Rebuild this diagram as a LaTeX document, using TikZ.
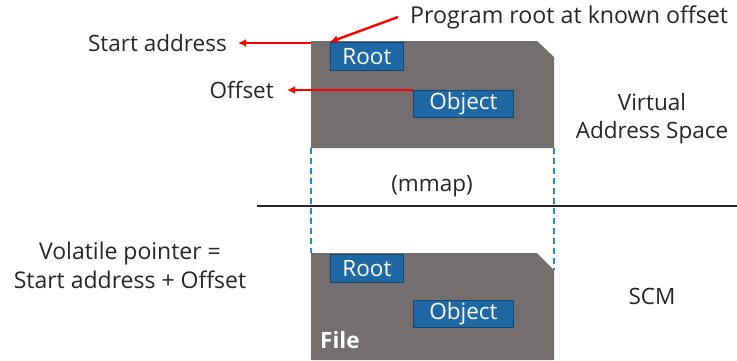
\documentclass[tikz,border=0pt]{standalone}
\usepackage{fontspec}
\setmainfont{Open Sans}
\usetikzlibrary{arrows.meta}
\definecolor{cardgray}{RGB}{116,111,110}
\definecolor{boxblue}{RGB}{31,104,166}
\definecolor{boxedge}{RGB}{22,70,112}
\definecolor{mapblue}{RGB}{33,136,220}
\definecolor{txt}{RGB}{38,38,38}
\tikzset{
  card/.style={fill=cardgray},
  objbox/.style={fill=boxblue, draw=boxedge, line width=1pt, text=white,
    inner sep=0pt, font=\fontsize{22.5}{22.5}\selectfont},
  label/.style={text=txt, inner sep=0pt, font=\fontsize{22.5}{28}\selectfont},
  pointer/.style={draw=red, line width=2.4pt, -{Latex[length=8pt,width=8pt]}},
  mapline/.style={draw=mapblue, line width=1.4pt, dash pattern=on 6pt off 4pt},
}
\begin{document}
\begin{tikzpicture}[x=1pt,y=-1pt]
\useasboundingbox (0,0) rectangle (737,360);

% virtual address space card
\fill[card] (311,41) -- (537,41) -- (554,57) -- (554,148) -- (311,148) -- cycle;
\coordinate (vtl) at (311,43);
\coordinate (vbl) at (311,148);
\coordinate (vbr) at (554,148);

% file card in SCM
\fill[card] (311,253) -- (537,253) -- (554,270) -- (554,360) -- (311,360) -- cycle;
\coordinate (ftl) at (311,253);
\coordinate (ftr) at (554,270);

% objects in memory
\node[objbox, minimum width=73pt, minimum height=28pt, anchor=north west] (vroot) at (330,42) {Root};
\node[objbox, minimum width=100pt, minimum height=27pt, anchor=north west] (vobj) at (413,90) {Object};

% objects in the file
\node[objbox, minimum width=73pt, minimum height=28pt, anchor=north west] (froot) at (330,254) {Root};
\node[objbox, minimum width=100pt, minimum height=27pt, anchor=north west] (fobj) at (413,300) {Object};
\node[text=white, inner sep=0pt, font=\fontsize{22.5}{22.5}\selectfont\bfseries, anchor=west] (file) at (320,340) {File};

% mmap projection
\draw[mapline] (vbl) -- (ftl);
\draw[mapline] (vbr) -- (ftr);
\node[label] (mmap) at (432,186) {(mmap)};

% divider between address space and SCM
\coordinate (divl) at (257,206);
\coordinate (divr) at (737,206);
\draw[line width=1.5pt, black!85] (divl) -- (divr);

% labels
\node[label, anchor=east] (start) at (227,43) {Start address};
\node[label, anchor=east] (offset) at (274,90) {Offset};
\node[label, anchor=west, font=\fontsize{23.2}{28}\selectfont] (prog) at (410,17) {Program root at known offset};
\node[label, align=center] (vas) at (652,119) {Virtual\\Address Space};
\node[label] (scm) at (652,296) {SCM};
\node[label, align=center, font=\fontsize{23}{29}\selectfont] (vp) at (130,265) {Volatile pointer =\\Start address + Offset};

% pointers
\draw[pointer] (vtl) -- ([xshift=11pt]start.east);
\draw[pointer] (vobj.north west) -- ([xshift=13pt]offset.east);
\draw[pointer] ([xshift=-12pt]prog.west) -- (vroot.north west);
\end{tikzpicture}
\end{document}
